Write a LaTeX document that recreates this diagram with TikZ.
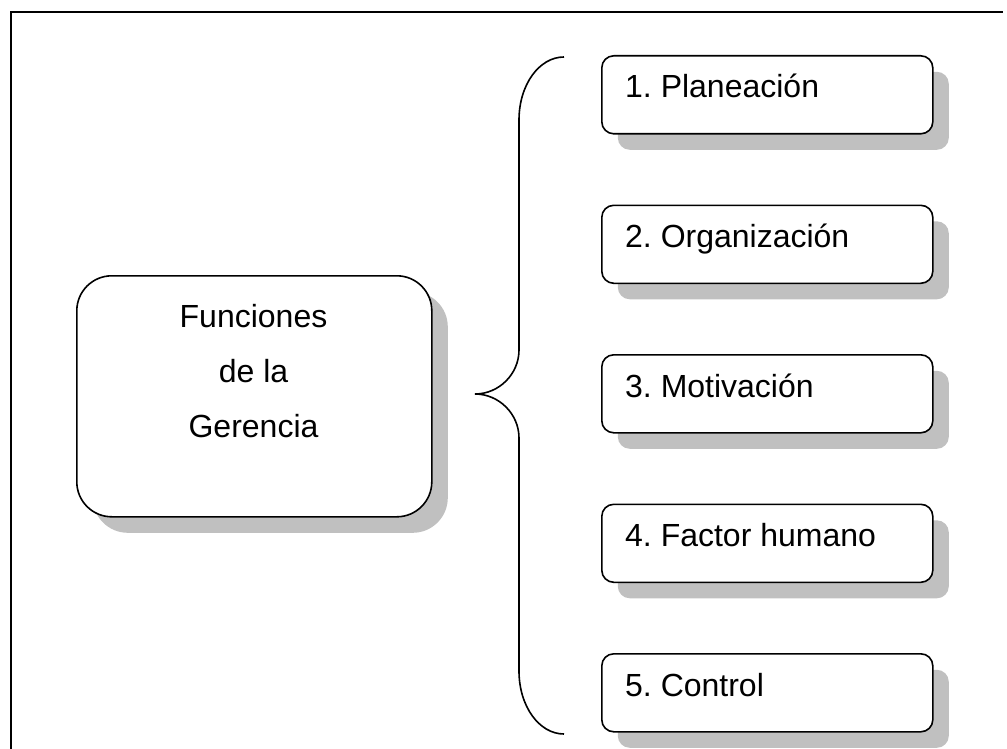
\documentclass[tikz,border=0pt]{standalone}
\usepackage{fontspec}
\setmainfont{Liberation Sans}
\usetikzlibrary{shadows}
\definecolor{shadowgray}{HTML}{C0C0C0}
\frenchspacing
\begin{document}
\begin{tikzpicture}[x=1pt,y=-1pt,
  itembox/.style={draw=black, line width=1.6pt, fill=white, rounded corners=12pt,
    minimum width=331pt, minimum height=78pt, anchor=north west, inner sep=0pt,
    general shadow={fill=shadowgray, shadow xshift=16pt, shadow yshift=-16pt}},
  mainbox/.style={draw=black, line width=1.6pt, fill=white, rounded corners=35pt,
    minimum width=355pt, minimum height=241pt, anchor=north west, inner sep=0pt,
    general shadow={fill=shadowgray, shadow xshift=16pt, shadow yshift=-16pt}},
  itemtext/.style={anchor=base west, inner sep=0pt, font=\fontsize{32}{38}\selectfont},
  maintext/.style={anchor=base, inner sep=0pt, font=\fontsize{32}{38}\selectfont},
  framepart/.style={line width=2.4pt, line cap=rect},
  bracepart/.style={line width=1.6pt}
]
\useasboundingbox (0,0) rectangle (1007,749);
% frame
\draw[framepart] (11,749) -- (11,12) -- (1002,12);
% main box
\node[mainbox] (main) at (76,275) {};
\node[maintext] (f1) at (253.5,327) {Funciones};
\node[maintext] (f2) at (253.5,382) {de la};
\node[maintext] (f3) at (253.5,437) {Gerencia};
% item boxes
\node[itembox] (b1) at (601,55) {};
\node[itembox] (b2) at (601,204.5) {};
\node[itembox] (b3) at (601,354) {};
\node[itembox] (b4) at (601,503.5) {};
\node[itembox] (b5) at (601,653) {};
\node[itemtext] (t1) at ([xshift=24pt,yshift=-43pt]b1.north west) {1. Planeación};
\node[itemtext] (t2) at ([xshift=24pt,yshift=-43pt]b2.north west) {2. Organización};
\node[itemtext] (t3) at ([xshift=24pt,yshift=-43pt]b3.north west) {3. Motivación};
\node[itemtext] (t4) at ([xshift=24pt,yshift=-43pt]b4.north west) {4. Factor humano};
\node[itemtext] (t5) at ([xshift=24pt,yshift=-43pt]b5.north west) {5. Control};
% brace
\draw[bracepart] (564,57) .. controls (539,57) and (519,85) .. (519,120)
  -- (519,350) .. controls (519,374) and (499,394) .. (475,394)
  .. controls (499,394) and (519,414) .. (519,438)
  -- (519,671) .. controls (519,706) and (539,734) .. (564,734);
\end{tikzpicture}
\end{document}
